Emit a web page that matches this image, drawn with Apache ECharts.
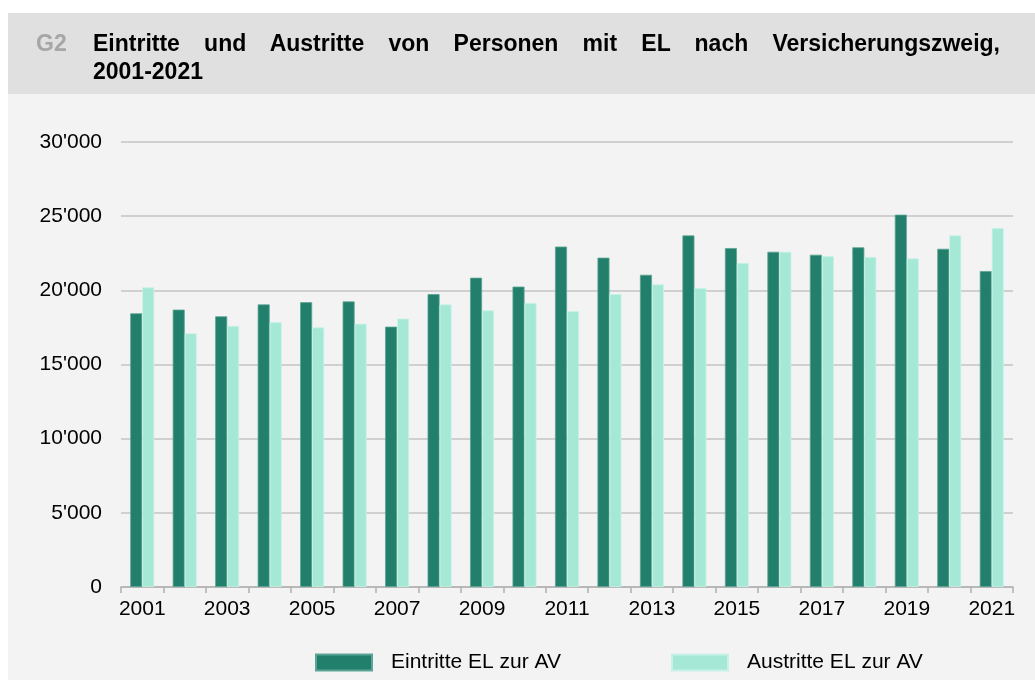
<!DOCTYPE html>
<html>
<head>
<meta charset="utf-8">
<script src="https://cdn.jsdelivr.net/npm/echarts@6/dist/echarts.min.js"></script>
<style>
  html, body { margin: 0; padding: 0; background: #fff; }
  #wrap { position: relative; width: 1035px; height: 680px; overflow: hidden; }
  #chart { position: absolute; left: 0; top: 0; width: 1035px; height: 680px; }
  .tag {
    position: absolute; left: 36px; top: 29px;
    font: bold 23px/28px 'Liberation Sans', Arial, sans-serif; color: #a6a6a6;
  }
  .title {
    position: absolute; left: 93px; top: 29px; width: 907px;
    font: bold 23px/28px 'Liberation Sans', Arial, sans-serif; color: #000;
  }
  /* first line is spread over the full width, like the reference */
  .title .l1 { text-align: justify; text-align-last: justify; }
</style>
</head>
<body>
<div id="wrap">
  <div id="chart"></div>
  <div class="tag">G2</div>
  <div class="title">
    <div class="l1">Eintritte und Austritte von Personen mit EL nach Versicherungszweig,</div>
    <div>2001-2021</div>
  </div>
</div>
<script>
/* Data */
const YEARS = ['2001', '2002', '2003', '2004', '2005', '2006', '2007', '2008', '2009', '2010', '2011',
  '2012', '2013', '2014', '2015', '2016', '2017', '2018', '2019', '2020', '2021']
const EINTRITTE = [18450, 18700, 18250, 19050, 19200, 19250, 17550, 19750, 20850, 20250, 22950,
  22200, 21050, 23700, 22850, 22600, 22400, 22900, 25100, 22800, 21300]
const AUSTRITTE = [20200, 17100, 17600, 17850, 17500, 17750, 18100, 19050, 18650, 19150, 18600,
  19750, 20400, 20150, 21850, 22600, 22300, 22250, 22150, 23700, 24200]
const SERIES_NAMES = ['Eintritte EL zur AV', 'Austritte EL zur AV']

const DARK = '#227f6b'
const LIGHT = '#a5e8d6'
const FONT = "'Liberation Sans', Arial, sans-serif"

const chart = echarts.init(document.getElementById('chart'))

/* swiss thousands separator */
const fmt = v => String(v).replace(/\B(?=(\d{3})+(?!\d))/g, "'")

chart.setOption({
  animation: false,
  textStyle: { fontFamily: FONT },
  graphic: [
    { type: 'rect', silent: true, z: -10, shape: { x: 8, y: 13, width: 1027, height: 81 }, style: { fill: '#e0e0e0' } },
    { type: 'rect', silent: true, z: -10, shape: { x: 8, y: 94, width: 1027, height: 586 }, style: { fill: '#f3f3f3' } }
  ],
  grid: { left: 121, right: 22, top: 142, bottom: 93 },
  legend: {
    left: 310,
    top: 647,
    itemWidth: 56,
    itemHeight: 16,
    itemGap: 110,
    icon: 'rect',
    textStyle: { fontSize: 21, color: '#000', fontFamily: FONT, padding: [0, 0, 0, 14] },
    data: SERIES_NAMES
  },
  xAxis: {
    type: 'category',
    data: YEARS,
    axisLine: { lineStyle: { color: '#b0b0b0', width: 1.5 } },
    axisTick: { show: true, interval: 0, length: 6, lineStyle: { color: '#b0b0b0', width: 1.5 } },
    axisLabel: { interval: 1, fontSize: 21, color: '#000', margin: 12, fontFamily: FONT }
  },
  yAxis: {
    type: 'value',
    min: 0,
    max: 30000,
    interval: 5000,
    axisLine: { show: false },
    axisTick: { show: false },
    axisLabel: { fontSize: 21, color: '#000', margin: 19, fontFamily: FONT, formatter: fmt },
    splitLine: { lineStyle: { color: '#c4c4c4', width: 1.5 } }
  },
  series: [
    {
      name: SERIES_NAMES[0],
      type: 'bar',
      data: EINTRITTE,
      barWidth: 12,
      barGap: '0%',
      itemStyle: { color: DARK, borderColor: '#5aa593', borderWidth: 0.8 }
    },
    {
      name: SERIES_NAMES[1],
      type: 'bar',
      data: AUSTRITTE,
      barWidth: 12,
      barGap: '0%',
      itemStyle: { color: LIGHT, borderColor: '#c9f2e7', borderWidth: 0.8 }
    }
  ]
})
</script>
</body>
</html>
